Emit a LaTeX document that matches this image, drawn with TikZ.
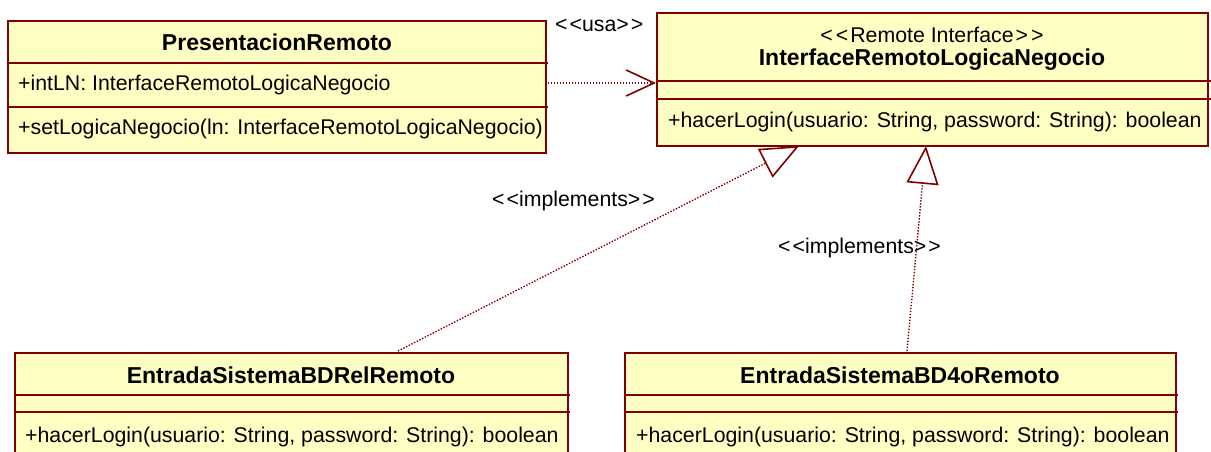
\documentclass[tikz,border=0pt]{standalone}
\usepackage{fontspec}
\setmainfont{Liberation Sans}
\usetikzlibrary{arrows.meta}
\definecolor{boxfill}{RGB}{255,255,196}
\definecolor{boxline}{RGB}{128,0,0}
\begin{document}
\begin{tikzpicture}[x=1pt,y=-1pt,
  clsbox/.style={draw=boxline, fill=boxfill, line width=1.6pt, anchor=north west, inner sep=0pt},
  divider/.style={draw=boxline, line width=1.6pt},
  title/.style={font=\fontsize{23}{27}\selectfont\bfseries, inner sep=0pt},
  member/.style={font=\fontsize{21.3}{25}\selectfont, inner sep=0pt, anchor=west},
  lbl/.style={font=\fontsize{21.3}{25}\selectfont, inner sep=0pt, anchor=west},
  dep/.style={draw=boxline, line width=1.4pt, dash pattern=on 1.4pt off 1.6pt},
  realize/.style={dep, -{Triangle[open, length=38pt, width=32pt, line width=1.6pt]}},
  usearrow/.style={dep, -{Straight Barb[length=28pt, width=26pt, line width=1.6pt]}}
]
\useasboundingbox (0,0) rectangle (1211,452);

% PresentacionRemoto
\node[clsbox, minimum width=538pt, minimum height=132pt] (pres) at (7,20) {};
\draw[divider] (7,63) -- (548,63);
\draw[divider] (7,107) -- (548,107);
\node[title] (presT) at (277,42) {PresentacionRemoto};
\node[member] (presA) at (18,85) {+intLN: InterfaceRemotoLogicaNegocio};
\node[member] (presO) at (18,129) {+setLogicaNegocio(ln: InterfaceRemotoLogicaNegocio)};

% InterfaceRemotoLogicaNegocio
\node[clsbox, minimum width=551pt, minimum height=133pt] (iface) at (656,12) {};
\draw[divider] (656,81) -- (1211,81);
\draw[divider] (656,99) -- (1211,99);
\node[inner sep=0pt, font=\fontsize{21.3}{25}\selectfont] (ifaceS) at (932,35) {<\kern3pt<\kern2pt Remote Interface\kern2pt>\kern3pt>};
\node[title] (ifaceT) at (932,60) {InterfaceRemotoLogicaNegocio};
\node[member] (ifaceO) at (668,122) {+hacerLogin(usuario: String, password: String): boolean};

% EntradaSistemaBDRelRemoto
\node[clsbox, minimum width=553pt, minimum height=120pt] (rel) at (14,352) {};
\draw[divider] (14,395) -- (570,395);
\draw[divider] (14,412) -- (570,412);
\node[title] (relT) at (291,375) {EntradaSistemaBDRelRemoto};
\node[member] (relO) at (25,437) {+hacerLogin(usuario: String, password: String): boolean};

% EntradaSistemaBD4oRemoto
\node[clsbox, minimum width=551pt, minimum height=120pt] (cuatro) at (624,352) {};
\draw[divider] (624,395) -- (1178,395);
\draw[divider] (624,412) -- (1178,412);
\node[title] (cuatroT) at (900,375) {EntradaSistemaBD4oRemoto};
\node[member] (cuatroO) at (636,437) {+hacerLogin(usuario: String, password: String): boolean};

% connectors
\coordinate (usaS) at (548,83);
\coordinate (usaE) at (656,83);
\draw[usearrow] (usaS) -- (usaE);
\node[lbl] (usaL) at (555,25) {<\kern2pt<usa>\kern2pt>};

\coordinate (relS) at (398,351);
\coordinate (relE) at (799,146);
\draw[realize] (relS) -- (relE);
\node[lbl] (impl1) at (492,201) {<\kern2pt<implements>\kern2pt>};

\coordinate (cuaS) at (907,351);
\coordinate (cuaE) at (926,146);
\draw[realize] (cuaS) -- (cuaE);
\node[lbl] (impl2) at (778,248) {<\kern2pt<implements>\kern2pt>};
\end{tikzpicture}
\end{document}
